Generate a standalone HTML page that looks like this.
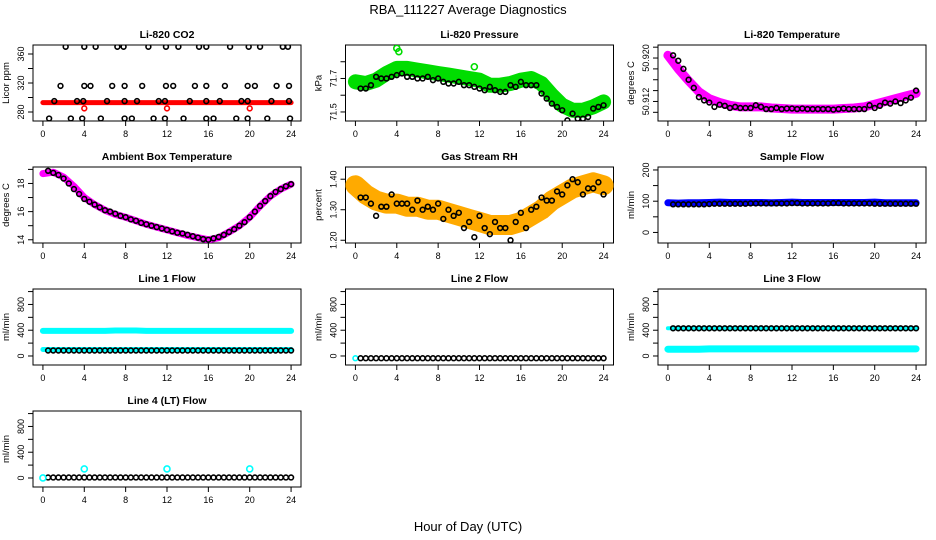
<!DOCTYPE html>
<html><head><meta charset="utf-8"><title>RBA_111227 Average Diagnostics</title>
<style>
html,body{margin:0;padding:0;background:#fff;}
svg{display:block;font-family:"Liberation Sans","DejaVu Sans",sans-serif;}
</style></head>
<body>
<svg id="chart" width="936" height="540" viewBox="0 0 936 540">
<text x="468" y="14" text-anchor="middle" font-size="13">RBA_111227  Average Diagnostics</text>
<text x="468" y="531" text-anchor="middle" font-size="13">Hour of Day (UTC)</text>
</svg>
<script>
// ---------- data ----------
const xTicks = [0,4,8,12,16,20,24];
const hourly = [0,1,2,3,4,5,6,7,8,9,10,11,12,13,14,15,16,17,18,19,20,21,22,23,24];
const halfHours = [0.5,1,1.5,2,2.5,3,3.5,4,4.5,5,5.5,6,6.5,7,7.5,8,8.5,9,9.5,10,10.5,11,11.5,12,12.5,13,13.5,14,14.5,15,15.5,16,16.5,17,17.5,18,18.5,19,19.5,20,20.5,21,21.5,22,22.5,23,23.5,24];

// Li-820 CO2
const co2BlackX = [2.2,4.0,5.1,7.2,7.8,10.2,11.9,13.1,15.1,15.8,18.1,19.9,21.0,23.2,23.7,
  1.7,4.0,4.6,6.7,7.9,9.6,11.9,12.6,14.7,15.8,17.6,19.8,20.5,22.6,23.8,
  1.1,3.3,3.9,6.2,7.9,9.1,11.2,11.8,14.2,15.8,17.1,19.2,19.8,22.1,23.8,
  0.6,2.7,3.8,5.6,7.9,8.6,10.7,11.8,13.6,15.8,16.5,18.7,19.8,21.7,23.9];
const co2BlackY = [370,370,370,370,370,370,370,370,370,370,370,370,370,370,370,
  316,316,316,316,316,316,316,316,316,316,316,316,316,316,316,
  295,295,295,295,295,295,295,295,295,295,295,295,295,295,295,
  271,271,271,271,271,271,271,271,271,271,271,271,271,271,271];
const co2Red = [293,293,293,293,293,293,293,293,293,293,293,293,293,293,293,293,293,293,293,293,293,293,293,293,293];
const co2RedOutX = [4,12,20];
const co2RedOutY = [285,285,285];

// Li-820 Pressure
const presGreen = [71.68,71.67,71.69,71.73,71.76,71.76,71.75,71.74,71.73,71.72,71.71,71.70,71.69,71.66,71.66,71.67,71.69,71.70,71.67,71.60,71.54,71.51,71.51,71.53,71.56];
const presGreenOutX = [4,4.2,11.5];
const presGreenOutY = [71.88,71.86,71.77];
const presBlack = [71.64,71.64,71.66,71.71,71.70,71.70,71.71,71.72,71.73,71.71,71.71,71.70,71.70,71.71,71.69,71.70,71.68,71.67,71.67,71.68,71.66,71.66,71.65,71.64,71.63,71.65,71.63,71.62,71.62,71.66,71.65,71.68,71.66,71.66,71.66,71.61,71.58,71.55,71.53,71.51,71.45,71.49,71.46,71.46,71.47,71.52,71.53,71.54];

// Li-820 Temperature
const tempMag = [50.9205,50.9180,50.9158,50.9138,50.9125,50.9118,50.9113,50.9110,50.9110,50.9110,50.9108,50.9107,50.9106,50.9106,50.9106,50.9106,50.9106,50.9107,50.9108,50.9110,50.9115,50.9120,50.9125,50.9130,50.9135];
const tempBlack = [50.9205,50.9195,50.9180,50.9160,50.9145,50.9128,50.9122,50.9118,50.9110,50.9114,50.9112,50.9108,50.9110,50.9108,50.9108,50.9108,50.9113,50.9110,50.9106,50.9106,50.9108,50.9106,50.9107,50.9107,50.9106,50.9107,50.9106,50.9106,50.9106,50.9106,50.9106,50.9105,50.9106,50.9107,50.9106,50.9106,50.9106,50.9106,50.9113,50.9108,50.9112,50.9118,50.9116,50.9120,50.9117,50.9122,50.9127,50.9140];

// Ambient Box Temperature
const ambMag = [18.7,18.8,18.45,17.8,17.0,16.5,16.1,15.8,15.6,15.35,15.1,14.9,14.7,14.5,14.3,14.15,14.0,14.15,14.55,15.0,15.6,16.4,17.1,17.6,17.95];
const ambBlack = [18.9,18.75,18.6,18.35,18.0,17.6,17.25,16.9,16.7,16.5,16.3,16.1,16.0,15.85,15.7,15.6,15.45,15.35,15.2,15.1,15.0,14.9,14.8,14.7,14.6,14.5,14.45,14.35,14.25,14.15,14.05,14.0,14.1,14.2,14.35,14.55,14.75,15.0,15.25,15.6,16.0,16.4,16.75,17.1,17.4,17.6,17.8,17.95];

// Gas Stream RH
const rhOrange = [1.38,1.35,1.33,1.32,1.32,1.31,1.31,1.30,1.30,1.29,1.28,1.27,1.26,1.25,1.25,1.25,1.26,1.28,1.30,1.33,1.35,1.37,1.38,1.39,1.38];
const rhBlack = [1.34,1.34,1.32,1.28,1.31,1.31,1.35,1.32,1.32,1.32,1.30,1.33,1.30,1.31,1.30,1.32,1.27,1.30,1.28,1.29,1.24,1.26,1.21,1.28,1.24,1.22,1.26,1.24,1.24,1.20,1.26,1.29,1.24,1.30,1.31,1.34,1.33,1.33,1.36,1.35,1.38,1.40,1.39,1.35,1.37,1.37,1.39,1.35];

// Sample Flow
const sampleBlue = [95,94,95,95,96,97,96,96,96,96,95,96,97,96,96,96,96,96,96,96,97,95,95,95,95];
const sampleBlack = [90,90,90,90,90,90,90,91,92,92,92,92,92,92,92,93,93,93,93,93,93,93,93,94,94,93,93,93,93,93,93,94,94,93,93,93,93,93,93,92,92,92,92,92,92,92,92,92];

// Line 1 Flow
const l1CyanHigh = [390,390,390,390,390,390,390,395,395,395,390,390,390,390,390,390,390,390,390,390,390,390,390,390,390];
const l1CyanLow = [100,100,100,100,100,100,100,100,100,100,100,100,100,100,100,100,100,100,100,100,100,100,100,100,100];
const l1Black = [85,85,85,85,85,85,85,85,85,85,85,85,85,85,85,85,85,85,85,85,85,85,85,85,85,85,85,85,85,85,85,85,85,85,85,85,85,85,85,85,85,85,85,85,85,85,85,85];

// Line 2 Flow
const l2CyanX = [0];
const l2CyanY = [-35];
const l2Black = [-35,-35,-35,-35,-35,-35,-35,-35,-35,-35,-35,-35,-35,-35,-35,-35,-35,-35,-35,-35,-35,-35,-35,-35,-35,-35,-35,-35,-35,-35,-35,-35,-35,-35,-35,-35,-35,-35,-35,-35,-35,-35,-35,-35,-35,-35,-35,-35];

// Line 3 Flow
const l3CyanHigh = [430,430,430,430,430,430,430,430,430,430,430,430,430,430,430,430,430,430,430,430,430,430,430,430,430];
const l3CyanLow = [105,105,105,105,110,110,110,110,110,110,110,110,110,110,110,110,110,110,110,110,110,110,110,110,110];
const l3Black = [430,430,430,430,430,430,430,430,430,430,430,430,430,430,430,430,430,430,430,430,430,430,430,430,430,430,430,430,430,430,430,430,430,430,430,430,430,430,430,430,430,430,430,430,430,430,430,430];

// Line 4 (LT) Flow
const l4CyanX = [0,4,12,20];
const l4CyanY = [0,140,140,140];
const l4Black = [8,8,8,8,8,8,8,8,8,8,8,8,8,8,8,8,8,8,8,8,8,8,8,8,8,8,8,8,8,8,8,8,8,8,8,8,8,8,8,8,8,8,8,8,8,8,8,8];

const flowTicks = [0,200,400,600,800,1000];
const flowLabels = ["0","","400","","800",""];

// ---------- drawing ----------
const NS = "http://www.w3.org/2000/svg";
const svg = document.getElementById("chart");
function mk(tag, attrs, parent){
  const e = document.createElementNS(NS, tag);
  for (const k in attrs) e.setAttribute(k, attrs[k]);
  (parent||svg).appendChild(e);
  return e;
}

function panel(col, row, title, ylab, ymin, ymax, yTicks, yLabels, name){
  const left = 33 + 312.5*col, top = 45 + 122*row, w = 268, h = 76;
  const g = mk("g", {});
  
  
  const x = hv => left + (hv + 0.96)/25.92*w;
  const y = v => top + h - (v - ymin)/(ymax - ymin)*h;
  const t = mk("text", {x: left + w/2, y: top - 7, "text-anchor":"middle", "font-size":"10.5", "font-weight":"bold"}, g);
  t.textContent = title;
  
  
  const box = mk("rect", {x:left, y:top, width:w, height:h, fill:"none", stroke:"#000", "stroke-width":"1"}, g);
  
  
  const xa = mk("g", {}, g);
  
  
  xTicks.forEach(tv => {
    mk("line", {x1:x(tv), x2:x(tv), y1:top+h, y2:top+h+5, stroke:"#000"}, xa);
    const lt = mk("text", {x:x(tv), y:top+h+16, "text-anchor":"middle", "font-size":"9"}, xa);
    lt.textContent = tv;
  });
  const ya = mk("g", {}, g);
  
  
  yTicks.forEach((tv, i) => {
    const yy = y(tv);
    mk("line", {x1:left-5, x2:left, y1:yy, y2:yy, stroke:"#000"}, ya);
    if (yLabels[i]) {
      const lt = mk("text", {x:left-9, y:yy, "text-anchor":"middle", "font-size":"9", transform:`rotate(-90 ${left-9} ${yy})`}, ya);
      lt.textContent = yLabels[i];
    }
  });
  const yl = mk("text", {x:left-24, y:top+h/2, "text-anchor":"middle", "font-size":"9.5", transform:`rotate(-90 ${left-24} ${top+h/2})`}, g);
  yl.textContent = ylab;
  
  
  const clipId = "clip-" + name;
  const cp = mk("clipPath", {id: clipId}, g);
  mk("rect", {x:left, y:top, width:w, height:h}, cp);
  const plot = mk("g", {"clip-path": `url(#${clipId})`}, g);
  return {x, y, plot};
}

function band(p, xs, ys, color, width, name){
  const pts = xs.map((xv, i) => p.x(xv).toFixed(1) + "," + p.y(ys[i]).toFixed(1)).join(" ");
  const pl = mk("polyline", {points: pts, fill:"none", stroke: color, "stroke-width": width, "stroke-linejoin":"round", "stroke-linecap":"round"}, p.plot);
  
  
}
function points(p, xs, ys, color, name, r){
  const g = mk("g", {}, p.plot);
  
  
  xs.forEach((xv, i) => {
    const c = mk("circle", {cx: p.x(xv), cy: p.y(ys[i]), r: r||2.4, fill:"none", stroke: color, "stroke-width":"1.6"}, g);
    
    
  });
}

// Panel 1: CO2
let p = panel(0,0,"Li-820 CO2","Licor ppm",267.6,372.4,[280,300,320,340,360],["280","","320","","360"],"co2");
band(p, hourly, co2Red, "#ff0000", 5, "co2-red-series");
points(p, co2RedOutX, co2RedOutY, "#ff0000", "co2-red-outliers");
points(p, co2BlackX, co2BlackY, "#000", "co2-black-series");

// Panel 2: Pressure
p = panel(1,0,"Li-820 Pressure","kPa",71.446,71.90,[71.5,71.6,71.7,71.8],["71.5","","71.7",""],"pressure");
band(p, hourly, presGreen, "#00dd00", 15, "pressure-green-series");
points(p, presGreenOutX, presGreenOutY, "#00dd00", "pressure-green-outliers", 3);
points(p, halfHours, presBlack, "#000", "pressure-black-series");

// Panel 3: Li-820 Temperature
p = panel(2,0,"Li-820 Temperature","degrees C",50.9084,50.9224,[50.910,50.912,50.914,50.916,50.918,50.920,50.922],["","50.912","","","","50.920",""],"li-temp");
band(p, hourly, tempMag, "#ff00ff", 9, "li-temp-magenta-series");
points(p, halfHours, tempBlack, "#000", "li-temp-black-series");

// Panel 4: Ambient
p = panel(0,1,"Ambient Box Temperature","degrees C",13.77,19.17,[14,15,16,17,18,19],["14","","16","","18",""],"ambient");
band(p, hourly, ambMag, "#ff00ff", 7, "ambient-magenta-series");
points(p, halfHours, ambBlack, "#000", "ambient-black-series");

// Panel 5: RH
p = panel(1,1,"Gas Stream RH","percent",1.191,1.44,[1.2,1.3,1.4],["1.20","1.30","1.40"],"rh");
band(p, hourly, rhOrange, "#ffaa00", 20, "rh-orange-series");
points(p, halfHours, rhBlack, "#000", "rh-black-series");

// Panel 6: Sample Flow
p = panel(2,1,"Sample Flow","ml/min",-33.8,209.5,[0,50,100,150,200],["0","","100","","200"],"sample-flow");
band(p, hourly, sampleBlue, "#0000ff", 7, "sample-flow-blue-series");
points(p, halfHours, sampleBlack, "#000", "sample-flow-black-series");

// Panel 7: Line 1 Flow
p = panel(0,2,"Line 1 Flow","ml/min",-140,1040,flowTicks,flowLabels,"line1-flow");
band(p, hourly, l1CyanHigh, "#00ffff", 6, "line1-cyan-high-series");
band(p, hourly, l1CyanLow, "#00ffff", 5, "line1-cyan-low-series");
points(p, halfHours, l1Black, "#000", "line1-black-series");

// Panel 8: Line 2 Flow
p = panel(1,2,"Line 2 Flow","ml/min",-140,1040,flowTicks,flowLabels,"line2-flow");
points(p, l2CyanX, l2CyanY, "#00ffff", "line2-cyan-series");
points(p, halfHours, l2Black, "#000", "line2-black-series");

// Panel 9: Line 3 Flow
p = panel(2,2,"Line 3 Flow","ml/min",-140,1040,flowTicks,flowLabels,"line3-flow");
band(p, hourly, l3CyanHigh, "#00ffff", 4, "line3-cyan-high-series");
band(p, hourly, l3CyanLow, "#00ffff", 7, "line3-cyan-low-series");
points(p, halfHours, l3Black, "#000", "line3-black-series");

// Panel 10: Line 4 Flow
p = panel(0,3,"Line 4 (LT) Flow","ml/min",-140,1040,flowTicks,flowLabels,"line4-flow");
points(p, halfHours, l4Black, "#000", "line4-black-series");
points(p, l4CyanX, l4CyanY, "#00ffff", "line4-cyan-series", 3);
</script>
</body></html>
